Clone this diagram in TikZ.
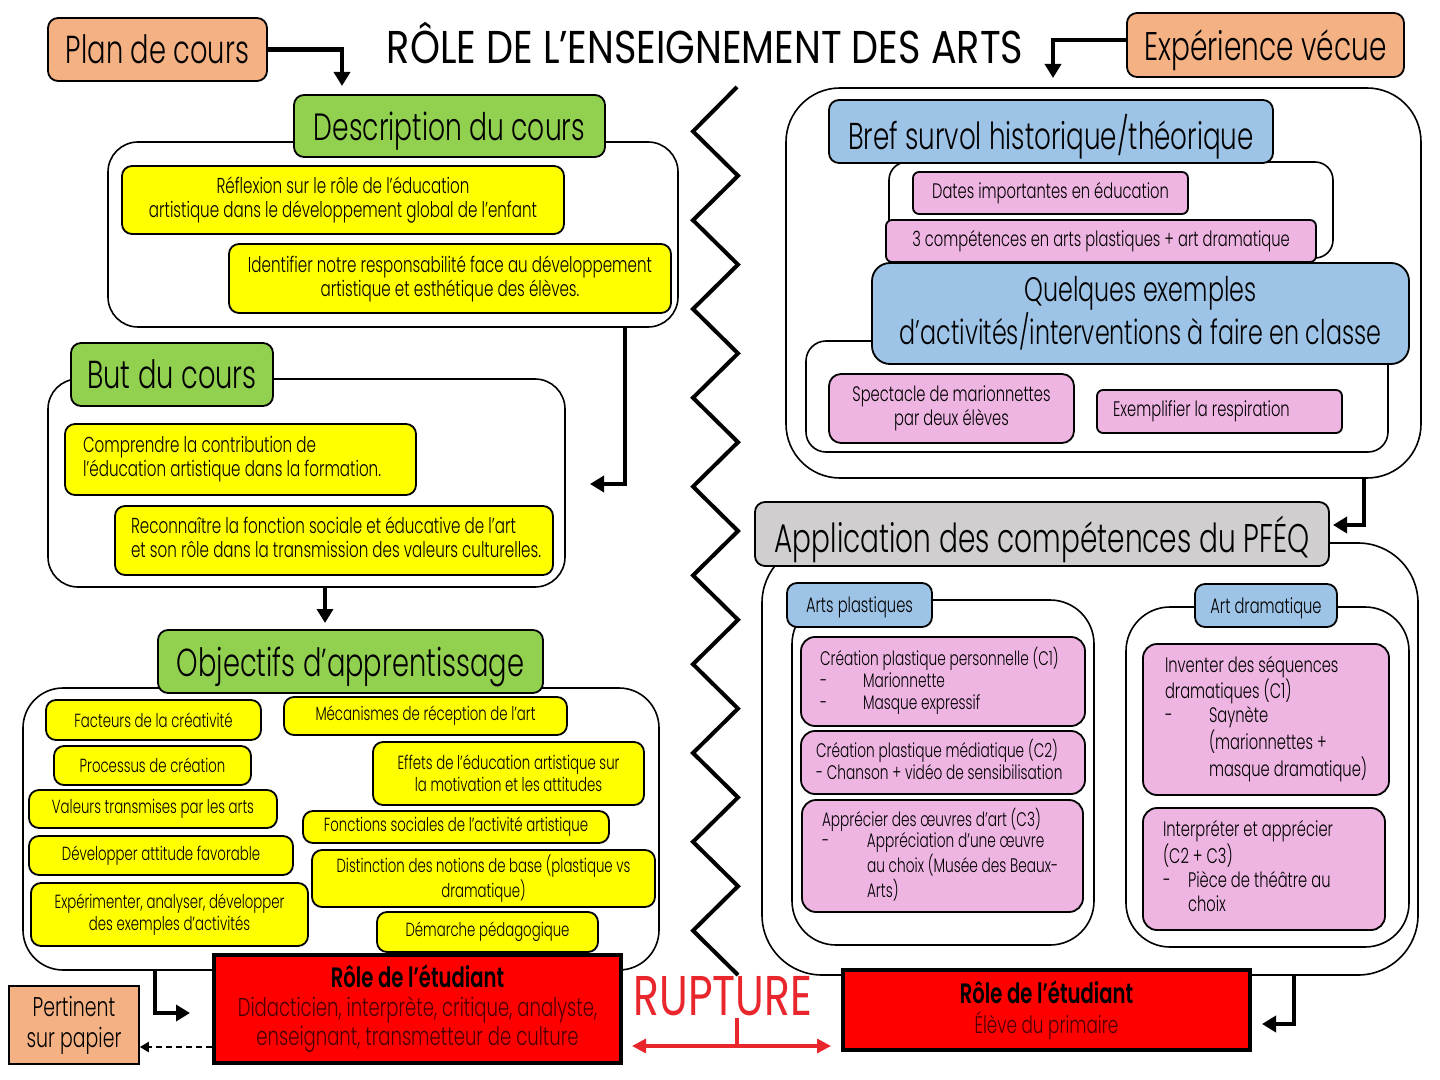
\documentclass[tikz,border=0pt]{standalone}
\usepackage{fontspec}
\setmainfont{Poppins}[UprightFont=* Light, BoldFont=* SemiBold, FakeStretch=0.70]
\newfontfamily\titlefont{Poppins}[FakeStretch=0.83]
\newfontfamily\capsfont{Poppins}[FakeStretch=0.76]
\usetikzlibrary{arrows.meta}
\definecolor{orng}{HTML}{F4B183}
\definecolor{grn}{HTML}{92D050}
\definecolor{yel}{HTML}{FFFF00}
\definecolor{blu}{HTML}{9DC3E6}
\definecolor{pnk}{HTML}{EEB4E2}
\definecolor{gry}{HTML}{D0CECE}
\definecolor{rouge}{HTML}{FF0000}
\definecolor{rupt}{HTML}{E8262B}
\definecolor{redtxt}{HTML}{4A0000}
\newcommand{\fsz}[2]{\fontsize{#1pt}{#2pt}\selectfont}
\newcommand{\dsh}[1]{\makebox[#1][l]{-}}
\newcommand{\lb}[2]{\makebox[#1][l]{\begin{tabular}{@{}l@{}}#2\end{tabular}}}
\newcommand{\bx}[7][]{%
  \pgfmathsetmacro\bxW{(#5-#3)/2}%
  \pgfmathsetmacro\bxH{(#6-#4)/2}%
  \pgfmathsetmacro\bxX{(#3+#5)/2}%
  \pgfmathsetmacro\bxY{(#4+#6)/2}%
  \node[#1, minimum width=\bxW pt, minimum height=\bxH pt] (#2) at (\bxX,\bxY) {#7};}
\begin{document}
\begin{tikzpicture}[x=0.5pt,y=-0.5pt,
  base/.style={draw=black, line width=0.9pt, inner sep=0pt},
  cont/.style={base, line width=0.8pt, fill=white},
  hdr/.style={base, rounded corners=5pt, text depth=0pt, font=\fsz{19}{22}},
  ybox/.style={base, fill=yel, rounded corners=5pt, align=center, font=\fsz{10.8}{12}},
  ylb/.style={base, fill=yel, rounded corners=5pt, font=\fsz{10.8}{12}},
  ysm/.style={ybox, font=\fsz{9.5}{11}},
  pbox/.style={base, fill=pnk, rounded corners=7pt, font=\fsz{9.8}{11}},
  psm/.style={base, fill=pnk, rounded corners=3pt, align=center, font=\fsz{10.5}{12}},
  rbox/.style={draw=black, line width=2pt, fill=rouge, inner sep=0pt, align=center},
  arr/.style={line width=2.2pt, -{Triangle[length=7pt,width=8pt]}},
  rarr/.style={draw=rupt, line width=1.6pt}]
\fill[white] (0,0) rectangle (1440,1080);
\useasboundingbox (0,0) rectangle (1440,1080);

% title
\node[anchor=base, font=\titlefont\fsz{23}{26}] (title) at (705,64) {RÔLE DE L’ENSEIGNEMENT DES ARTS};

% left column
\bx[hdr, fill=orng, font=\fsz{19.5}{22}]{plan}{48}{18}{267}{81}{Plan de cours}

\bx[cont, rounded corners=15pt]{descC}{108}{142}{678}{327}{}
\bx[hdr, fill=grn]{desc}{294}{95}{605}{157}{Description du cours}
\bx[ybox]{y1}{122}{166}{564}{234}{Réflexion sur le rôle de l’éducation\\artistique dans le développement global de l’enfant}
\bx[ybox]{y2}{229}{244}{671}{313}{Identifier notre responsabilité face au développement\\artistique et esthétique des élèves.}

\bx[cont, rounded corners=15pt]{butC}{48}{379}{565}{587}{}
\bx[hdr, fill=grn, font=\fsz{19.5}{22}]{but}{71}{343}{273}{406}{But du cours}
\bx[ylb]{y3}{65}{424}{416}{495}{\lb{157.5pt}{Comprendre la contribution de\\l’éducation artistique dans la formation.}}
\bx[ylb]{y4}{115}{506}{553}{575}{\lb{203pt}{Reconnaître la fonction sociale et éducative de l’art\\et son rôle dans la transmission des valeurs culturelles.}}

\bx[cont, rounded corners=20pt]{objC}{23}{688}{659}{970}{}
\bx[hdr, fill=grn, font=\fsz{19.5}{22}]{obj}{158}{630}{543}{693}{Objectifs d’apprentissage}
\bx[ysm]{o1}{46}{700}{261}{740}{Facteurs de la créativité}
\bx[ysm]{o2}{284}{697}{567}{735}{Mécanismes de réception de l’art}
\bx[ysm]{o3}{54}{746}{251}{785}{Processus de création}
\bx[ysm]{o4}{373}{742}{644}{805}{Effets de l’éducation artistique sur\\la motivation et les attitudes}
\bx[ysm]{o5}{29}{790}{277}{828}{Valeurs transmises par les arts}
\bx[ysm]{o6}{303}{811}{609}{843}{Fonctions sociales de l’activité artistique}
\bx[ysm]{o7}{29}{836}{293}{875}{Développer attitude favorable}
\bx[ysm]{o8}{312}{850}{655}{907}{Distinction des notions de base (plastique vs\\dramatique)}
\bx[ysm]{o9}{31}{883}{308}{946}{Expérimenter, analyser, développer\\des exemples d’activités}
\bx[ysm]{o10}{377}{912}{598}{952}{Démarche pédagogique}

\bx[rbox, font=\fsz{12.9}{14.5}, text=redtxt]{roleL}{214}{955}{621}{1063}{\textcolor{black}{\bfseries\fsz{14}{14.5}Rôle de l’étudiant}\\Didacticien, interprète, critique, analyste,\\enseignant, transmetteur de culture}
\bx[base, line width=0.8pt, fill=orng, align=center, font=\fsz{13.5}{15.5}]{pert}{9}{986}{139}{1064}{Pertinent\\sur papier}

% rupture
\node[anchor=base, text=rupt, font=\capsfont\fsz{28}{30}] (rup) at (723,1015) {RUPTURE};

% zigzag
\draw[line width=2pt, line join=miter] (737,87)
  \foreach \k in {0,...,9} { -- (693,{131.4+88.8*\k}) -- (738,{175.8+88.8*\k}) };

% right column
\bx[hdr, fill=orng, font=\fsz{20}{22}]{exp}{1127}{13}{1404}{77}{Expérience vécue}
\bx[cont, rounded corners=27pt]{rb}{786}{88}{1421}{478}{}
\bx[cont, rounded corners=9pt]{rb1}{889}{162}{1333}{258}{}
\bx[hdr, fill=blu, font=\fsz{18.7}{20}]{bref}{829}{100}{1273}{163}{Bref survol historique/théorique}
\bx[psm]{p1}{913}{172}{1188}{214}{Dates importantes en éducation}
\bx[psm]{p2}{886}{220}{1316}{262}{3 compétences en arts plastiques + art dramatique}
\bx[cont, rounded corners=10pt]{rb2}{806}{341}{1388}{452}{}
\bx[base, fill=blu, rounded corners=9pt, align=center, font=\fsz{17}{19.5}]{quel}{872}{263}{1409}{364}{Quelques exemples\\d’activités/interventions à faire en classe}
\bx[psm, rounded corners=6pt]{p3}{829}{374}{1074}{443}{Spectacle de marionnettes\\par deux élèves}
\bx[pbox, rounded corners=3pt, font=\fsz{10.5}{12}]{p4}{1097}{390}{1342}{433}{\lb{106.5pt}{Exemplifier la respiration}}

\bx[cont, rounded corners=30pt]{appC}{762}{543}{1418}{975}{}
\bx[hdr, fill=gry, font=\fsz{20}{22}]{app}{755}{502}{1329}{566}{Application des compétences du PFÉQ}
\bx[cont, rounded corners=22pt]{apC}{792}{600}{1094}{945}{}
\bx[hdr, fill=blu, font=\fsz{10.5}{12}]{ap}{787}{583}{932}{627}{Arts plastiques}
\bx[cont, rounded corners=22pt]{adC}{1126}{607}{1409}{947}{}
\bx[hdr, fill=blu, font=\fsz{10.5}{12}]{ad}{1195}{584}{1337}{627}{Art dramatique}

\bx[pbox]{a1}{801}{637}{1085}{726}{\lb{123pt}{Création plastique personnelle (C1)\\\dsh{21.5pt}Marionnette\\\dsh{21.5pt}Masque expressif}}
\bx[pbox]{a2}{801}{731}{1085}{794}{\lb{127pt}{Création plastique médiatique (C2)\\- Chanson + vidéo de sensibilisation}}
\bx[pbox, font=\fsz{9.8}{10.7}]{a3}{802}{800}{1083}{912}{\lb{120.5pt}{Apprécier des œuvres d’art (C3)\\\dsh{22.5pt}Appréciation d’une œuvre\\\hspace*{22.5pt}au choix (Musée des Beaux-\\\hspace*{22.5pt}Arts)}}
\bx[pbox, font=\fsz{10.5}{12}]{d1}{1143}{644}{1389}{795}{\lb{101pt}{Inventer des séquences\\dramatiques (C1)\\\dsh{22pt}Saynète\\\hspace*{22pt}(marionnettes +\\\hspace*{22pt}masque dramatique)}}
\bx[pbox, font=\fsz{10.5}{12}]{d2}{1143}{808}{1385}{930}{\lb{101pt}{Interpréter et apprécier\\(C2 + C3)\\\dsh{12.5pt}Pièce de théâtre au\\\hspace*{12.5pt}choix}}

\bx[rbox, font=\fsz{12}{15}, text=redtxt]{roleR}{843}{970}{1250}{1050}{\textcolor{black}{\bfseries\fsz{14}{15}Rôle de l’étudiant}\\Élève du primaire}

% connectors
\coordinate (t1) at (342,86);
\draw[arr] (plan.east) -| (t1);
\coordinate (t2) at (590,484);
\draw[arr] ([xshift=116pt]descC.south) |- (t2);
\coordinate (t3) at (325,623);
\draw[arr] ([xshift=9.25pt]butC.south) -- (t3);
\coordinate (t4) at (190,1013);
\draw[arr] ([xshift=-93pt]objC.south) |- (t4);
\draw[dashed, line width=1.1pt, dash pattern=on 3pt off 2pt, -{Triangle[length=4.5pt,width=5pt]}] (roleL.west |- 0,1047) -- (pert.east |- 0,1047);

\coordinate (t0) at (1053,78);
\draw[arr] ([yshift=2.5pt]exp.west) -| (t0);
\coordinate (t5) at (1333,525);
\draw[arr] ([xshift=130.25pt]rb.south) |- (t5);
\coordinate (t6) at (1262,1024);
\draw[arr, line width=1.8pt] ([xshift=102pt]appC.south) |- (t6);

\coordinate (rs) at (737,1018);
\coordinate (rj) at (737,1046);
\draw[rarr] (rs) -- (rj);
\draw[rarr, {Triangle[length=7pt,width=7pt]}-{Triangle[length=7pt,width=7pt]}] ([xshift=4.5pt]roleL.east |- rj) -- ([xshift=-5pt]roleR.west |- rj);
\end{tikzpicture}
\end{document}
